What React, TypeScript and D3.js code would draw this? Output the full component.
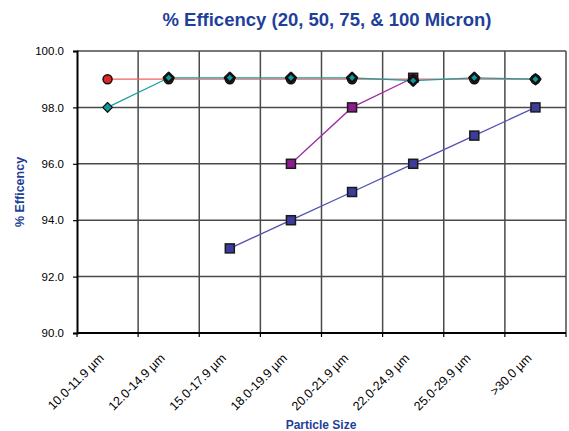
import React, { useRef, useEffect } from "react";
import * as d3 from "d3";

const WIDTH = 569;
const HEIGHT = 431;
const MARGIN = { top: 51, right: 3, bottom: 98, left: 77 };

const categories = [
  "10.0-11.9 µm",
  "12.0-14.9 µm",
  "15.0-17.9 µm",
  "18.0-19.9 µm",
  "20.0-21.9 µm",
  "22.0-24.9 µm",
  "25.0-29.9 µm",
  ">30.0 µm",
];

// null = no reading for that size
const micron20 = [null, null, 93.0, 94.0, 95.0, 96.0, 97.0, 98.0];
const micron50 = [null, null, null, 96.0, 98.0, 99.05, null, null];
const micron75 = [99.0, 99.0, 99.0, 99.0, 99.0, 99.0, 99.0, 99.0];
const micron100 = [98.0, 99.05, 99.05, 99.05, 99.05, 98.95, 99.05, 99.0];

const yTicks = [90, 92, 94, 96, 98, 100];

const BLUE = "#1f3f99";
const FONT = "Arial, 'Liberation Sans', sans-serif";

export default function App() {
  const ref = useRef<SVGSVGElement>(null);

  useEffect(() => {
    const svg = d3.select(ref.current);
    svg.selectAll("*").remove();

    const x = d3
      .scaleBand()
      .domain(categories)
      .range([MARGIN.left, WIDTH - MARGIN.right])
      .padding(0);
    const y = d3
      .scaleLinear()
      .domain([90, 100])
      .range([HEIGHT - MARGIN.bottom, MARGIN.top]);
    const cx = (i: number) => x(categories[i])! + x.bandwidth() / 2;

    svg.append("rect").attr("width", WIDTH).attr("height", HEIGHT).attr("fill", "#fff");

    // grid
    const grid = svg.append("g").attr("stroke", "#4a4a4a").attr("stroke-width", 1.5);
    yTicks.slice(1).forEach((t) => {
      grid
        .append("line")
        .attr("x1", MARGIN.left)
        .attr("x2", WIDTH - MARGIN.right)
        .attr("y1", y(t))
        .attr("y2", y(t));
    });
    categories.forEach((c) => {
      const gx = x(c)! + x.bandwidth();
      grid
        .append("line")
        .attr("x1", gx)
        .attr("x2", gx)
        .attr("y1", y(100))
        .attr("y2", y(90));
    });

    // y axis
    const yAxis = svg
      .append("g")
      .attr("transform", `translate(${MARGIN.left},0)`)
      .call(
        d3
          .axisLeft(y)
          .tickValues(yTicks)
          .tickSize(4)
          .tickFormat((d) => (d as number).toFixed(1))
      );
    yAxis.select(".domain").attr("stroke", "#000").attr("stroke-width", 2);
    yAxis.selectAll(".tick line").attr("stroke", "#000").attr("stroke-width", 1.2);
    yAxis
      .selectAll(".tick text")
      .attr("font-family", FONT)
      .attr("font-size", 11.5)
      .attr("fill", "#000")
      .attr("x", -13);

    // x axis
    const xAxis = svg.append("g").attr("transform", `translate(0,${y(90)})`);
    xAxis
      .append("line")
      .attr("x1", MARGIN.left)
      .attr("x2", WIDTH - MARGIN.right)
      .attr("stroke", "#000")
      .attr("stroke-width", 2);
    [MARGIN.left, ...categories.map((c) => x(c)! + x.bandwidth())].forEach((tx) => {
      xAxis
        .append("line")
        .attr("x1", tx)
        .attr("x2", tx)
        .attr("y1", 0)
        .attr("y2", 4)
        .attr("stroke", "#000")
        .attr("stroke-width", 1.2);
    });
    categories.forEach((c, i) => {
      xAxis
        .append("text")
        .attr("transform", `translate(${cx(i) - 3},${26}) rotate(-45)`)
        .attr("text-anchor", "end")
        .attr("font-family", FONT)
        .attr("font-size", 12.5)
        .attr("fill", "#000")
        .text(c);
    });

    // series
    const lineGen = d3
      .line<number | null>()
      .defined((d) => d !== null)
      .x((d, i) => cx(i))
      .y((d) => y(d as number));

    const drawLine = (data: (number | null)[], color: string) => {
      svg
        .append("path")
        .datum(data)
        .attr("fill", "none")
        .attr("stroke", color)
        .attr("stroke-width", 1.3)
        .attr("d", lineGen);
    };

    drawLine(micron20, "#5252b4");
    drawLine(micron50, "#a02ea0");
    drawLine(micron75, "#f06262");
    drawLine(micron100, "#16a0a0");

    const pts = (data: (number | null)[]) =>
      data.map((v, i) => ({ v, i })).filter((d) => d.v !== null) as { v: number; i: number }[];

    const squares = (data: (number | null)[], fill: string) => {
      svg
        .append("g")
        .selectAll("rect")
        .data(pts(data))
        .join("rect")
        .attr("x", (d) => cx(d.i) - 4.5)
        .attr("y", (d) => y(d.v) - 4.5)
        .attr("width", 9)
        .attr("height", 9)
        .attr("fill", fill)
        .attr("stroke", "#1a1a1a")
        .attr("stroke-width", 1.5);
    };

    squares(micron20, "#3c3c9c");
    squares(micron50, "#8c1c8c");

    svg
      .append("g")
      .selectAll("circle")
      .data(pts(micron75))
      .join("circle")
      .attr("cx", (d) => cx(d.i))
      .attr("cy", (d) => y(d.v))
      .attr("r", 4.5)
      .attr("fill", "#e02626")
      .attr("stroke", "#111")
      .attr("stroke-width", 1.5);

    const diamond = d3.symbol().type(d3.symbolDiamond2).size(60);
    svg
      .append("g")
      .selectAll("path")
      .data(pts(micron100))
      .join("path")
      .attr("transform", (d) => `translate(${cx(d.i)},${y(d.v)})`)
      .attr("d", diamond)
      .attr("fill", "#0f9a9a")
      .attr("stroke", "#111")
      .attr("stroke-linejoin", "round")
      .attr("stroke-width", (d) => (d.i > 0 ? 2.6 : 1.2));

    // titles
    svg
      .append("text")
      .attr("x", 327)
      .attr("y", 26)
      .attr("text-anchor", "middle")
      .attr("font-family", FONT)
      .attr("font-weight", "bold")
      .attr("font-size", 18.5)
      .attr("fill", BLUE)
      .text("% Efficency (20, 50, 75, & 100 Micron)");

    svg
      .append("text")
      .attr("transform", `translate(24,192) rotate(-90)`)
      .attr("text-anchor", "middle")
      .attr("font-family", FONT)
      .attr("font-weight", "bold")
      .attr("font-size", 12.5)
      .attr("fill", BLUE)
      .text("% Efficency");

    svg
      .append("text")
      .attr("x", 321)
      .attr("y", 429)
      .attr("text-anchor", "middle")
      .attr("font-family", FONT)
      .attr("font-weight", "bold")
      .attr("font-size", 12)
      .attr("fill", BLUE)
      .text("Particle Size");
  }, []);

  return (
    <svg
      ref={ref}
      width={WIDTH}
      height={HEIGHT}
      style={{ position: "absolute", left: 0, top: 0, display: "block" }}
    />
  );
}
